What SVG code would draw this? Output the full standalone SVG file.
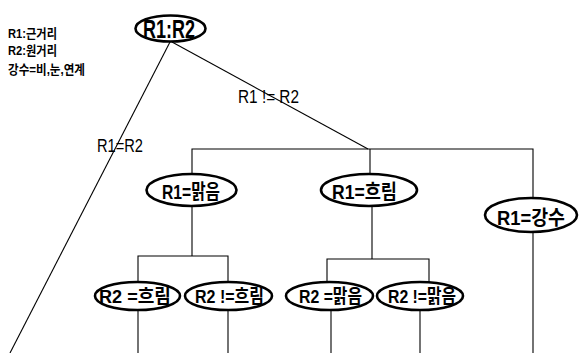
<svg xmlns="http://www.w3.org/2000/svg" width="579" height="353" viewBox="0 0 579 353">
<style>
.n ellipse{fill:#fff;stroke:#000;stroke-width:2.6}
.n text{font-family:"Liberation Sans","Noto Sans CJK KR",sans-serif;font-weight:bold;fill:#000}
#edges line,#edges polyline{stroke:#000;stroke-width:1.1;fill:none}
.lbl{font-family:"Liberation Sans","Noto Sans CJK KR",sans-serif;fill:#000;font-size:19px}
.leg{font-family:"Liberation Sans","Noto Sans CJK KR",sans-serif;font-weight:bold;font-size:13px;fill:#000}
</style>
<rect width="579" height="353" fill="#fff"/>
<g id="legend">
<text class="leg" x="8" y="38" textLength="49" lengthAdjust="spacingAndGlyphs">R1:근거리</text>
<text class="leg" x="8" y="55" textLength="49" lengthAdjust="spacingAndGlyphs">R2:원거리</text>
<text class="leg" x="8" y="74" textLength="77" lengthAdjust="spacingAndGlyphs">강수=비,눈,연계</text>
</g>
<g id="edges">
<line x1="170" y1="42" x2="10" y2="353"/>
<line x1="172" y1="42" x2="368" y2="149"/>
<polyline points="192,174 192,149 533,149 533,198"/>
<line x1="370" y1="149" x2="370" y2="174"/>
<polyline points="192,206 192,256"/>
<polyline points="138,282 138,256 228,256 228,282"/>
<line x1="138" y1="310" x2="138" y2="353"/>
<line x1="228" y1="310" x2="228" y2="353"/>
<polyline points="372,206 372,259"/>
<polyline points="327,282 327,259 429,259 429,282"/>
<line x1="331" y1="310" x2="331" y2="353"/>
<line x1="420" y1="310" x2="420" y2="353"/>
<line x1="533" y1="232" x2="533" y2="353"/>
<text class="lbl" x="238" y="103" textLength="61" lengthAdjust="spacingAndGlyphs">R1 != R2</text>
<text class="lbl" x="97" y="152" textLength="46" lengthAdjust="spacingAndGlyphs">R1=R2</text>
</g>
<g id="n_root" class="n">
<ellipse cx="170.5" cy="28.5" rx="35" ry="13"/>
<text x="143" y="38" font-size="26" textLength="52" lengthAdjust="spacingAndGlyphs">R1:R2</text>
</g>
<g id="n_clear" class="n">
<ellipse cx="191.5" cy="190" rx="45" ry="16"/>
<text x="162" y="199" font-size="20" textLength="58" lengthAdjust="spacingAndGlyphs">R1=맑음</text>
</g>
<g id="n_cloudy" class="n">
<ellipse cx="369" cy="190" rx="48" ry="16"/>
<text x="332" y="199" font-size="20" textLength="65" lengthAdjust="spacingAndGlyphs">R1=흐림</text>
</g>
<g id="n_precip" class="n">
<ellipse cx="531" cy="215" rx="46" ry="17"/>
<text x="497" y="225" font-size="20" textLength="68" lengthAdjust="spacingAndGlyphs">R1=강수</text>
</g>
<g id="n_c1" class="n">
<ellipse cx="137.5" cy="296" rx="42.5" ry="14"/>
<text x="99" y="303" font-size="19" textLength="72" lengthAdjust="spacingAndGlyphs">R2 =흐림</text>
</g>
<g id="n_c2" class="n">
<ellipse cx="228.5" cy="296" rx="43.5" ry="14"/>
<text x="195" y="303" font-size="19" textLength="69" lengthAdjust="spacingAndGlyphs">R2 !=흐림</text>
</g>
<g id="n_h1" class="n">
<ellipse cx="329.5" cy="296" rx="43.5" ry="14"/>
<text x="299" y="303" font-size="19" textLength="63" lengthAdjust="spacingAndGlyphs">R2 =맑음</text>
</g>
<g id="n_h2" class="n">
<ellipse cx="420" cy="296" rx="43" ry="14"/>
<text x="388" y="303" font-size="19" textLength="68" lengthAdjust="spacingAndGlyphs">R2 !=맑음</text>
</g>
</svg>
